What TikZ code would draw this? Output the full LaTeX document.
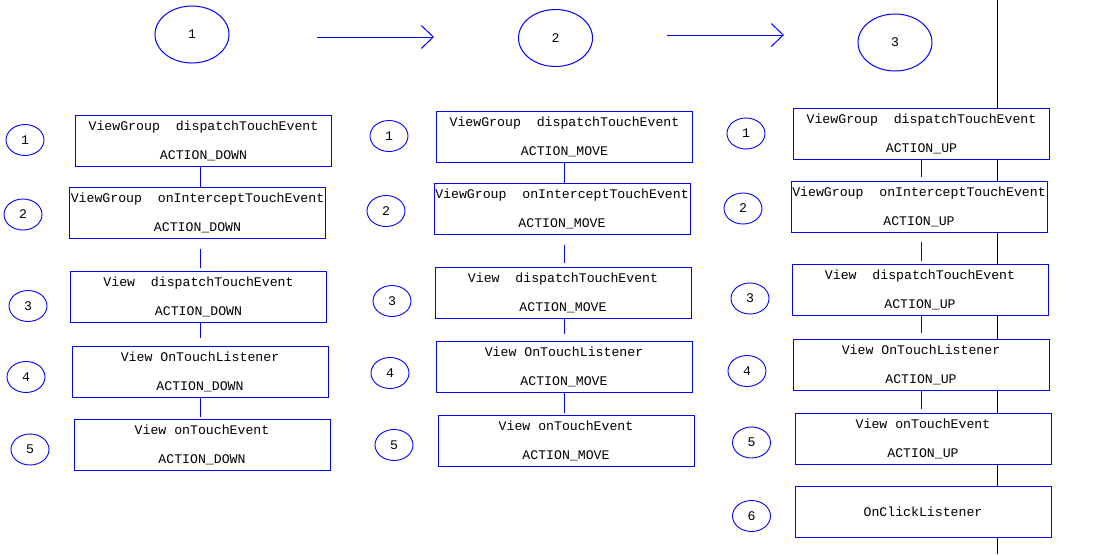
\documentclass[tikz,border=0pt]{standalone}
\usepackage{fontspec}
\setmonofont{Liberation Mono}
\usetikzlibrary{shapes.geometric,arrows.meta}
\definecolor{lineblue}{RGB}{0,0,255}
\begin{document}
\begin{tikzpicture}[x=1pt,y=-1pt,
  every node/.style={font=\ttfamily\fontsize{13.2}{29}\selectfont, text=black},
  stepbox/.style={draw=lineblue, line width=1pt, fill=white, rectangle,
    minimum width=256pt, minimum height=51pt, inner sep=0pt, align=center},
  numoval/.style={draw=lineblue, line width=0.9pt, ellipse,
    minimum width=38pt, minimum height=31pt, inner sep=0pt},
  phaseoval/.style={draw=lineblue, line width=1pt, ellipse,
    minimum width=74pt, minimum height=57pt, inner sep=0pt},
  link/.style={draw=lineblue, line width=1pt},
  flowarrow/.style={draw=lineblue, line width=1pt, -{Straight Barb[length=12pt,width=23pt,line width=1pt]}}
]
\useasboundingbox (0,0) rectangle (1111,555);

% vertical black line (behind boxes)
\coordinate (vtop) at (997,0);
\coordinate (vbot) at (997,554);
\draw[black, line width=1pt] (vtop) -- (vbot);

% top phase ovals
\node[phaseoval] (p1) at (192,34.5) {1};
\node[phaseoval] (p2) at (555.5,38) {2};
\node[phaseoval] (p3) at (895,42.5) {3};

\coordinate (a1s) at (317,37);
\coordinate (a1e) at (434,37);
\coordinate (a2s) at (667,35);
\coordinate (a2e) at (784,35);
\draw[flowarrow] (a1s) -- (a1e);
\draw[flowarrow] (a2s) -- (a2e);

% column axes
\coordinate (ax1) at (200,0);
\coordinate (ax2) at (564,0);
\coordinate (ax3) at (921,0);

% column 1
\node[stepbox] (c1b1) at (203.5,140.5) {ViewGroup~~dispatchTouchEvent\\ACTION\_DOWN};
\node[stepbox] (c1b2) at (197.5,212.5) {ViewGroup~~onInterceptTouchEvent\\ACTION\_DOWN};
\node[stepbox] (c1b3) at (198.5,296.5) {View~~dispatchTouchEvent\\ACTION\_DOWN};
\node[stepbox] (c1b4) at (200,371.5) {View OnTouchListener\\ACTION\_DOWN};
\node[stepbox] (c1b5) at (202,444.5) {View onTouchEvent\\ACTION\_DOWN};

\node[numoval] (c1n1) at (25,140) {1};
\node[numoval] (c1n2) at (23,214.5) {2};
\node[numoval] (c1n3) at (28,306) {3};
\node[numoval] (c1n4) at (26,377) {4};
\node[numoval] (c1n5) at (30,449.5) {5};

\draw[link] (ax1 |- c1b1.south) -- (ax1 |- c1b2.north);
\draw[link, shorten <=10pt, shorten >=3pt] (ax1 |- c1b2.south) -- (ax1 |- c1b3.north);
\draw[link, shorten >=8pt] (ax1 |- c1b3.south) -- (ax1 |- c1b4.north);
\draw[link, shorten >=2pt] (ax1 |- c1b4.south) -- (ax1 |- c1b5.north);

% column 2
\node[stepbox] (c2b1) at (564.5,136.5) {ViewGroup~~dispatchTouchEvent\\ACTION\_MOVE};
\node[stepbox] (c2b2) at (562,208.5) {ViewGroup~~onInterceptTouchEvent\\ACTION\_MOVE};
\node[stepbox] (c2b3) at (563,292.5) {View~~dispatchTouchEvent\\ACTION\_MOVE};
\node[stepbox] (c2b4) at (564,367) {View OnTouchListener\\ACTION\_MOVE};
\node[stepbox] (c2b5) at (566,440.5) {View onTouchEvent\\ACTION\_MOVE};

\node[numoval] (c2n1) at (389,136) {1};
\node[numoval] (c2n2) at (386,211) {2};
\node[numoval] (c2n3) at (392,301) {3};
\node[numoval] (c2n4) at (390,373) {4};
\node[numoval] (c2n5) at (394,445) {5};

\draw[link] (ax2 |- c2b1.south) -- (ax2 |- c2b2.north);
\draw[link, shorten <=10pt, shorten >=4pt] (ax2 |- c2b2.south) -- (ax2 |- c2b3.north);
\draw[link, shorten >=7pt] (ax2 |- c2b3.south) -- (ax2 |- c2b4.north);
\draw[link, shorten >=2pt] (ax2 |- c2b4.south) -- (ax2 |- c2b5.north);

% column 3
\node[stepbox] (c3b1) at (921.5,133.5) {ViewGroup~~dispatchTouchEvent\\ACTION\_UP};
\node[stepbox] (c3b2) at (919,207) {ViewGroup~~onInterceptTouchEvent\\ACTION\_UP};
\node[stepbox] (c3b3) at (920,289.5) {View~~dispatchTouchEvent\\ACTION\_UP};
\node[stepbox] (c3b4) at (921,364.5) {View OnTouchListener\\ACTION\_UP};
\node[stepbox] (c3b5) at (923,438.5) {View onTouchEvent\\ACTION\_UP};
\node[stepbox] (c3b6) at (923,511.5) {OnClickListener};

\node[numoval] (c3n1) at (746,133.5) {1};
\node[numoval] (c3n2) at (743,208.5) {2};
\node[numoval] (c3n3) at (750,298.5) {3};
\node[numoval] (c3n4) at (747,371) {4};
\node[numoval] (c3n5) at (751.5,442.5) {5};
\node[numoval] (c3n6) at (751.5,516) {6};

\draw[link, shorten >=4pt] (ax3 |- c3b1.south) -- (ax3 |- c3b2.north);
\draw[link, shorten <=9pt, shorten >=3pt] (ax3 |- c3b2.south) -- (ax3 |- c3b3.north);
\draw[link, shorten >=6pt] (ax3 |- c3b3.south) -- (ax3 |- c3b4.north);
\draw[link, shorten >=4pt] (ax3 |- c3b4.south) -- (ax3 |- c3b5.north);
\end{tikzpicture}
\end{document}
